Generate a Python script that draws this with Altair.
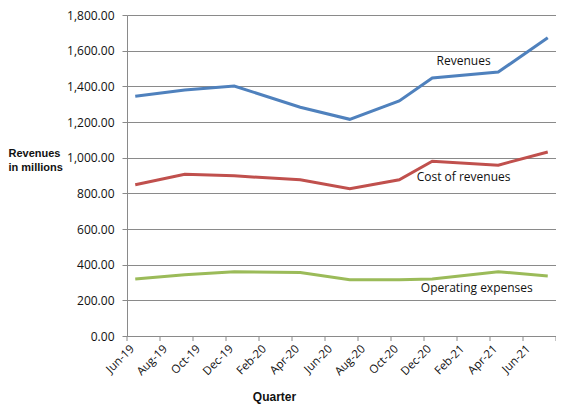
import altair as alt
import pandas as pd

# ---- data ----
quarters = ["Jun-19", "Sep-19", "Dec-19", "Apr-20", "Jul-20", "Oct-20", "Dec-20", "Apr-21", "Jul-21"]
revenues = [1345, 1380, 1402, 1283, 1215, 1318, 1447, 1480, 1672]
cost_of_revenues = [848, 907, 898, 876, 826, 876, 980, 958, 1032]
operating_expenses = [320, 344, 360, 356, 315, 315, 320, 360, 337]

tick_labels = ["Jun-19", "Aug-19", "Oct-19", "Dec-19", "Feb-20", "Apr-20", "Jun-20",
               "Aug-20", "Oct-20", "Dec-20", "Feb-21", "Apr-21", "Jun-21"]

series_names = ["Revenues", "Cost of revenues", "Operating expenses"]
series_colors = ["#4F81BD", "#C0504D", "#9BBB59"]

# annotation labels placed in data coordinates (month label, value)
annot_text = ["Revenues", "Cost of revenues", "Operating expenses"]
annot_month = ["Jan-21", "Jan-21", "Feb-21"]
annot_shift = [0.9, 0.9, 0.7]
annot_value = [1544, 889, 267]

MONTHS = ["Jan", "Feb", "Mar", "Apr", "May", "Jun", "Jul", "Aug", "Sep", "Oct", "Nov", "Dec"]


def month_index(lbl):
    m, y = lbl.split("-")
    return (int(y) - 19) * 12 + MONTHS.index(m) - 5


rows = []
for name, vals in zip(series_names, [revenues, cost_of_revenues, operating_expenses]):
    for q, v in zip(quarters, vals):
        rows.append({"series": name, "m": month_index(q), "value": v})
df = pd.DataFrame(rows)

label_vals = [month_index(t) for t in tick_labels]
label_expr = "{" + ",".join(f"'{i}':'{t}'" for i, t in zip(label_vals, tick_labels)) + "}[datum.value]"
tick_df = pd.DataFrame({"m": [v - 0.5 for v in label_vals] + [label_vals[-1] + 1.5]})

annot_df = pd.DataFrame({
    "text": annot_text,
    "m": [month_index(a) + s for a, s in zip(annot_month, annot_shift)],
    "value": annot_value,
})

W, H = 429, 321
xscale = alt.Scale(domain=[-0.5, 25.5], nice=False, zero=False)
yscale = alt.Scale(domain=[0, 1800], nice=False)

GRAY = "#8A8A8A"
LABEL_FONT = "Open Sans"
TITLE_FONT = "Liberation Sans"

x_axis = alt.Axis(
    values=label_vals, tickCount=40, labelExpr=label_expr, labelAngle=-45, labelAlign="right",
    labelBaseline="middle", labelPadding=11, labelOffset=-3, ticks=False,
    labelOverlap=False, labelBound=False,
    domainColor=GRAY, grid=False, labelFont=LABEL_FONT, labelFontSize=11.5,
    labelColor="#111111", title="Quarter", titleFont=TITLE_FONT, titleFontSize=12,
    titleFontWeight="bold", titleX=147, titleY=64, titleAnchor="middle",
    titleAlign="center", titleBaseline="alphabetic", titleColor="#111111",
)
y_axis = alt.Axis(
    values=list(range(0, 1801, 200)), tickCount=40, format=",.2f", tickSize=5, tickColor=GRAY,
    labelOverlap=False, labelBound=False,
    domainColor=GRAY, gridColor=GRAY, labelFont=LABEL_FONT, labelFontSize=12,
    labelColor="#111111", labelPadding=8,
    title=["Revenues", "in millions"], titleAngle=0, titleAlign="left",
    titleBaseline="top", titleX=-119, titleY=132, titleFont=TITLE_FONT,
    titleFontSize=11, titleFontWeight="bold", titleLineHeight=14, titleColor="#111111",
)

lines = alt.Chart(df).mark_line(strokeWidth=3).encode(
    x=alt.X("m:Q", scale=xscale, axis=x_axis),
    y=alt.Y("value:Q", scale=yscale, axis=y_axis),
    color=alt.Color("series:N", scale=alt.Scale(domain=series_names, range=series_colors), legend=None),
    detail="series:N",
)

ticks = alt.Chart(tick_df).mark_rule(color=GRAY, strokeWidth=1).encode(
    x=alt.X("m:Q", scale=xscale),
    y=alt.value(H),
    y2=alt.value(H + 5),
)

texts = alt.Chart(annot_df).mark_text(font=LABEL_FONT, fontSize=12, color="#111111").encode(
    x=alt.X("m:Q", scale=xscale),
    y=alt.Y("value:Q", scale=yscale),
    text="text:N",
)

chart = alt.layer(lines, ticks, texts).properties(
    width=W, height=H,
    autosize=alt.AutoSizeParams(type="none"),
    padding={"left": 119, "top": 7, "right": 0, "bottom": 68},
).configure_view(stroke=None).configure(background="white")

chart.save("out.html", embed_options={"renderer": "svg", "actions": False})
